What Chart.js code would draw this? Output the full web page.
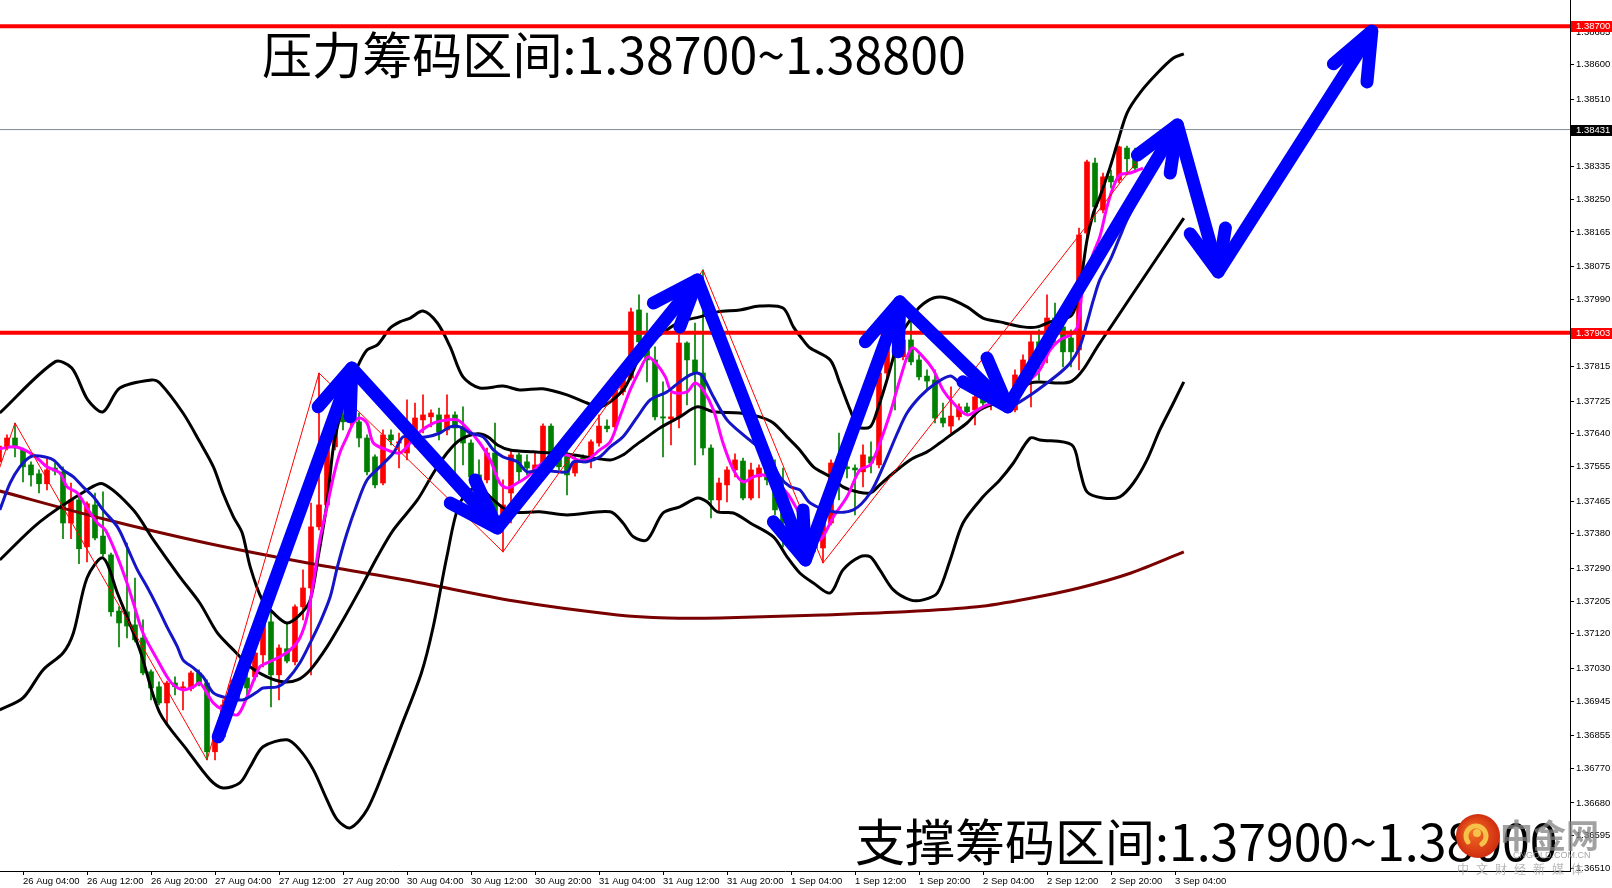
<!DOCTYPE html>
<html>
<head>
<meta charset="utf-8">
<script src="https://cdn.jsdelivr.net/npm/chart.js@4.4.1/dist/chart.umd.min.js"></script>
<style>
  html, body { margin: 0; padding: 0; background: #fff; }
  #wrap { width: 1612px; height: 888px; }
</style>
</head>
<body>
<div id="wrap"><canvas id="chart" width="1612" height="888"></canvas></div>
<script>
// H1 bars, bar 0 = 26 Aug 04:00, first visible bar is -3
const firstBar = -3;

const opens = [
  1.37567,1.37606,1.37629,1.37598,1.37559,1.37536,1.37510,1.37551,1.37541,1.37408,
  1.37468,1.37346,1.37455,1.37374,1.37325,1.37179,1.37177,1.37143,1.37109,1.37021,
  1.36982,1.36940,1.36992,1.36979,1.36977,1.37018,1.36992,1.36813,1.36852,1.36935,
  1.36987,1.37005,1.37008,1.37065,1.37151,1.37013,1.37081,1.37047,1.37190,1.37239,
  1.37398,1.37455,1.37606,1.37689,1.37671,1.37671,1.37629,1.37580,1.37512,1.37637,
  1.37616,1.37590,1.37645,1.37676,1.37684,1.37689,1.37650,1.37689,1.37658,1.37616,
  1.37533,1.37520,1.37590,1.37403,1.37486,1.37585,1.37567,1.37520,1.37554,1.37660,
  1.37580,1.37590,1.37538,1.37577,1.37572,1.37616,1.37660,1.37658,1.37749,1.37785,
  1.37962,1.37879,1.37832,1.37684,1.37679,1.37684,1.37876,1.37832,1.37798,1.37603,
  1.37468,1.37507,1.37546,1.37569,1.37473,1.37528,1.37551,1.37520,1.37442,1.37408,
  1.37351,1.37333,1.37359,1.37343,1.37408,1.37580,1.37554,1.37551,1.37541,1.37580,
  1.37559,1.37798,1.37866,1.37840,1.37884,1.37832,1.37790,1.37780,1.37681,1.37660,
  1.37684,1.37710,1.37702,1.37736,1.37720,1.37733,1.37715,1.37702,1.37793,1.37798,
  1.37879,1.37884,1.37941,1.37918,1.37889,1.37858,1.38162,1.38344,1.38222,1.38310,
  1.38300,1.38383,1.38365
];
const highs = [
  1.37616,1.37637,1.37668,1.37603,1.37567,1.37546,1.37580,1.37564,1.37554,1.37512,
  1.37476,1.37463,1.37486,1.37489,1.37330,1.37190,1.37356,1.37265,1.37156,1.37026,
  1.36995,1.36997,1.37008,1.36995,1.37023,1.37026,1.37000,1.36870,1.36948,1.37000,
  1.37013,1.37026,1.37078,1.37156,1.37177,1.37091,1.37148,1.37195,1.37286,1.37460,
  1.37798,1.37624,1.37715,1.37702,1.37697,1.37694,1.37637,1.37585,1.37650,1.37650,
  1.37642,1.37728,1.37720,1.37741,1.37702,1.37707,1.37741,1.37697,1.37710,1.37624,
  1.37572,1.37603,1.37668,1.37520,1.37598,1.37590,1.37585,1.37590,1.37666,1.37666,
  1.37590,1.37598,1.37580,1.37585,1.37624,1.37689,1.37676,1.37767,1.37801,1.37967,
  1.38001,1.37954,1.37866,1.37775,1.37759,1.37897,1.37879,1.37928,1.38066,1.37611,
  1.37525,1.37554,1.37588,1.37577,1.37564,1.37559,1.37567,1.37572,1.37551,1.37416,
  1.37364,1.37377,1.37372,1.37416,1.37572,1.37642,1.37572,1.37559,1.37611,1.37619,
  1.37819,1.37884,1.37871,1.37910,1.37936,1.37845,1.37806,1.37806,1.37720,1.37762,
  1.37718,1.37720,1.37746,1.37746,1.37741,1.37738,1.37728,1.37806,1.37845,1.37902,
  1.37910,1.38001,1.37980,1.37936,1.37910,1.38175,1.38352,1.38357,1.38318,1.38326,
  1.38388,1.38388,1.38383
];
const lows = [
  1.37551,1.37598,1.37580,1.37515,1.37504,1.37486,1.37494,1.37533,1.37367,1.37367,
  1.37302,1.37307,1.37364,1.37322,1.37166,1.37086,1.37109,1.37099,1.37013,1.36948,
  1.36935,1.36883,1.36961,1.36922,1.36971,1.36984,1.36792,1.36792,1.36844,1.36922,
  1.36948,1.36956,1.37000,1.37034,1.36930,1.36948,1.37044,1.37039,1.37156,1.37013,
  1.37390,1.37442,1.37598,1.37650,1.37655,1.37606,1.37533,1.37499,1.37507,1.37611,
  1.37551,1.37572,1.37606,1.37642,1.37658,1.37624,1.37637,1.37538,1.37559,1.37520,
  1.37507,1.37512,1.37416,1.37333,1.37408,1.37515,1.37533,1.37507,1.37546,1.37572,
  1.37546,1.37481,1.37530,1.37564,1.37551,1.37608,1.37645,1.37650,1.37741,1.37780,
  1.37858,1.37775,1.37676,1.37580,1.37611,1.37655,1.37715,1.37559,1.37585,1.37421,
  1.37437,1.37463,1.37528,1.37468,1.37468,1.37473,1.37507,1.37429,1.37346,1.37338,
  1.37312,1.37312,1.37333,1.37304,1.37403,1.37468,1.37525,1.37429,1.37502,1.37538,
  1.37551,1.37780,1.37702,1.37832,1.37819,1.37780,1.37754,1.37668,1.37658,1.37642,
  1.37676,1.37689,1.37663,1.37710,1.37702,1.37707,1.37697,1.37697,1.37780,1.37710,
  1.37780,1.37824,1.37871,1.37814,1.37814,1.37806,1.38144,1.38191,1.38214,1.38279,
  1.38292,1.38313,1.38321
];
const closes = [
  1.37608,1.37629,1.37603,1.37554,1.37533,1.37510,1.37546,1.37543,1.37408,1.37468,
  1.37341,1.37458,1.37369,1.37328,1.37177,1.37148,1.37140,1.37104,1.37018,1.36979,
  1.36940,1.36992,1.36982,1.36982,1.37018,1.36992,1.36813,1.36852,1.36935,1.36987,
  1.36974,1.36979,1.37070,1.37148,1.37013,1.37083,1.37049,1.37190,1.37239,1.37398,
  1.37455,1.37606,1.37689,1.37671,1.37681,1.37629,1.37541,1.37507,1.37637,1.37624,
  1.37619,1.37637,1.37681,1.37689,1.37694,1.37645,1.37689,1.37655,1.37616,1.37528,
  1.37520,1.37590,1.37434,1.37455,1.37585,1.37541,1.37551,1.37559,1.37660,1.37580,
  1.37554,1.37533,1.37567,1.37572,1.37619,1.37660,1.37653,1.37754,1.37785,1.37957,
  1.37879,1.37832,1.37684,1.37681,1.37684,1.37876,1.37832,1.37798,1.37603,1.37468,
  1.37512,1.37546,1.37572,1.37473,1.37546,1.37551,1.37520,1.37442,1.37408,1.37351,
  1.37333,1.37364,1.37343,1.37408,1.37564,1.37572,1.37549,1.37546,1.37585,1.37564,
  1.37798,1.37866,1.37840,1.37884,1.37827,1.37788,1.37777,1.37681,1.37668,1.37686,
  1.37710,1.37697,1.37736,1.37720,1.37733,1.37718,1.37702,1.37793,1.37832,1.37879,
  1.37845,1.37941,1.37897,1.37853,1.37853,1.38157,1.38347,1.38230,1.38308,1.38295,
  1.38386,1.38355,1.38331
];

// indicator lines, [bar, price]
const bbUpper = [[-2.9,1.37694],[4,1.37827],[6.1,1.37811],[8.1,1.37728],[10,1.37697],[12.1,1.37759],[16.1,1.37780],[17.1,1.37772],[20,1.37694],[22.1,1.37619],[23.8,1.37554],[25,1.37486],[26.3,1.37424],[27.4,1.37382],[28.4,1.37294],[29.9,1.37208],[31.3,1.37174],[33,1.37148],[34.6,1.37169],[35.9,1.37208],[36.9,1.37320],[38,1.37460],[38.8,1.37606],[39.6,1.37684],[40.5,1.37746],[41.8,1.37814],[43,1.37858],[44.3,1.37871],[45.9,1.37915],[47.1,1.37931],[48.4,1.37941],[50,1.37959],[51.8,1.37928],[53.4,1.37866],[55,1.37788],[57.1,1.37759],[60,1.37764],[62.1,1.37754],[65,1.37757],[68,1.37741],[70.5,1.37720],[72.1,1.37710],[73.4,1.37723],[75.3,1.37762],[77.8,1.37871],[79.6,1.37897],[82.1,1.37931],[84.6,1.37944],[86.8,1.37957],[89.6,1.37962],[92.1,1.37972],[95,1.37967],[96.3,1.37918],[97.5,1.37884],[98.4,1.37863],[100.9,1.37832],[102.1,1.37772],[103.4,1.37702],[104.4,1.37658],[105.9,1.37658],[106.8,1.37702],[108,1.37780],[109.6,1.37892],[110.9,1.37936],[112.1,1.37970],[113.8,1.37993],[115.5,1.37993],[118,1.37970],[120,1.37941],[122.1,1.37931],[125,1.37918],[126.8,1.37918],[128.4,1.37931],[131.1,1.37949],[132.1,1.38022],[133,1.38144],[133.8,1.38214],[134.6,1.38256],[135.9,1.38334],[136.8,1.38396],[138,1.38474],[139.6,1.38526],[141.8,1.38578],[143.8,1.38617],[145.1,1.38628]];
const bbMiddle = [[-2.9,1.37312],[2.1,1.37411],[8,1.37494],[10,1.37510],[13.8,1.37442],[16.3,1.37364],[19.6,1.37268],[22.1,1.37200],[24.3,1.37122],[26.3,1.37078],[28.4,1.37034],[30.5,1.37008],[32.5,1.36995],[34.3,1.37000],[35.9,1.37026],[38,1.37086],[40,1.37156],[42.1,1.37234],[44.3,1.37320],[46.3,1.37390],[49.3,1.37468],[51.3,1.37538],[53,1.37590],[54.6,1.37624],[56.8,1.37640],[58.1,1.37632],[59.3,1.37611],[60.9,1.37598],[63.8,1.37593],[68.8,1.37585],[73.4,1.37572],[75,1.37585],[76.3,1.37606],[77.5,1.37624],[79.6,1.37655],[82.1,1.37684],[84.3,1.37710],[86.3,1.37697],[89.6,1.37694],[92.1,1.37684],[93.8,1.37668],[95.5,1.37632],[97.1,1.37598],[98.8,1.37554],[100.9,1.37528],[102.5,1.37502],[104.3,1.37489],[105.9,1.37486],[107.1,1.37507],[108.8,1.37538],[110.9,1.37572],[113,1.37593],[114.6,1.37616],[116.3,1.37642],[118,1.37668],[119.6,1.37702],[121.8,1.37720],[123.4,1.37723],[125.9,1.37772],[131.1,1.37777],[134.6,1.37876],[138.8,1.38006],[145.1,1.38201]];
const bbLower = [[-2.9,1.36922],[0,1.36953],[2.5,1.37026],[5,1.37070],[6.3,1.37122],[8,1.37265],[10,1.37317],[11.8,1.37226],[14.6,1.37078],[17.1,1.36914],[20.5,1.36818],[23.4,1.36740],[25,1.36719],[27.1,1.36732],[28.4,1.36774],[30,1.36826],[33,1.36844],[34.6,1.36818],[36.3,1.36766],[38,1.36688],[39.3,1.36636],[40.9,1.36615],[43,1.36662],[45.5,1.36784],[47.1,1.36870],[49.8,1.37018],[51.3,1.37140],[53,1.37322],[54.6,1.37460],[56.8,1.37502],[58.8,1.37468],[60.9,1.37437],[64.6,1.37437],[68,1.37429],[73.4,1.37437],[75,1.37408],[76.3,1.37372],[78,1.37364],[80,1.37434],[82.1,1.37450],[84.3,1.37473],[85.5,1.37463],[86.8,1.37437],[88.8,1.37434],[90.9,1.37408],[93.8,1.37372],[95.5,1.37320],[97.1,1.37278],[98.8,1.37252],[100.9,1.37226],[102.5,1.37286],[104.6,1.37320],[105.9,1.37320],[107.1,1.37286],[108.8,1.37234],[110.9,1.37208],[112.5,1.37208],[114.3,1.37226],[115.9,1.37312],[117.5,1.37408],[120,1.37476],[122.1,1.37520],[123.8,1.37564],[125.9,1.37629],[127.1,1.37624],[131.1,1.37611],[132.1,1.37546],[133,1.37489],[135,1.37473],[137.1,1.37476],[138.8,1.37512],[140.5,1.37572],[142.1,1.37650],[143.8,1.37720],[145.1,1.37775]];
const maSlow = [[-2.9,1.37491],[10,1.37419],[22.9,1.37356],[35.6,1.37304],[48.5,1.37257],[61.4,1.37205],[74.3,1.37169],[80.6,1.37161],[87.1,1.37161],[99.9,1.37169],[110.3,1.37177],[119.3,1.37190],[125.6,1.37211],[132,1.37239],[138.5,1.37278],[145.1,1.37333]];
const maFast = [[-2.9,1.37601],[-1,1.37606],[1.3,1.37585],[3,1.37554],[4.6,1.37538],[5.5,1.37502],[6.8,1.37486],[8,1.37447],[9.3,1.37408],[10.3,1.37390],[11.8,1.37320],[13,1.37252],[13.8,1.37200],[15,1.37122],[16.8,1.37052],[18,1.37008],[18.8,1.36987],[20,1.36974],[21.3,1.36982],[22.1,1.36992],[23.8,1.36940],[25,1.36922],[26.8,1.36909],[28,1.36956],[29.6,1.37034],[30.5,1.37044],[32.1,1.37060],[33.4,1.37078],[34.6,1.37109],[35.5,1.37164],[36.3,1.37252],[37.1,1.37364],[38,1.37450],[38.8,1.37528],[39.6,1.37590],[40.5,1.37632],[41.3,1.37668],[42.1,1.37681],[43,1.37668],[43.8,1.37616],[45.5,1.37598],[47.1,1.37590],[48.4,1.37616],[49.6,1.37645],[51.3,1.37668],[53,1.37676],[54.3,1.37676],[55.5,1.37655],[57.1,1.37616],[58.4,1.37572],[59.6,1.37512],[60.5,1.37499],[61.8,1.37512],[63,1.37528],[64.6,1.37559],[66.3,1.37580],[68,1.37585],[69.3,1.37572],[70.5,1.37572],[72.1,1.37598],[73.4,1.37619],[74.6,1.37684],[75.9,1.37754],[77.1,1.37806],[78.1,1.37840],[79.3,1.37819],[80.3,1.37788],[81.1,1.37749],[83,1.37749],[84,1.37772],[85,1.37754],[86.3,1.37702],[87.5,1.37616],[88.8,1.37546],[90,1.37515],[91.3,1.37528],[92.5,1.37533],[93.8,1.37520],[95.5,1.37486],[96.8,1.37442],[98.1,1.37390],[99.6,1.37364],[101.3,1.37424],[103,1.37476],[104.6,1.37546],[105.9,1.37559],[107.1,1.37616],[108.4,1.37694],[109.6,1.37780],[111.1,1.37863],[112.5,1.37840],[113.8,1.37806],[115,1.37754],[116.3,1.37720],[118,1.37689],[119.3,1.37702],[120.5,1.37715],[122.1,1.37723],[123.4,1.37736],[124.6,1.37746],[125.9,1.37780],[127.1,1.37806],[128.4,1.37858],[129.6,1.37884],[130.9,1.37897],[131.8,1.37918],[132.5,1.38022],[133.8,1.38110],[134.6,1.38152],[135.5,1.38230],[136.3,1.38282],[137.1,1.38313],[138.4,1.38318],[140,1.38331]];
const maMid = [[-2.9,1.37442],[-1.6,1.37512],[-0.4,1.37554],[0.9,1.37580],[2.1,1.37582],[3.8,1.37572],[5,1.37546],[6.3,1.37528],[7.5,1.37502],[8.8,1.37476],[10,1.37442],[11.8,1.37398],[13,1.37346],[14.3,1.37286],[15.5,1.37242],[16.8,1.37190],[18,1.37138],[19.3,1.37086],[20,1.37052],[21.3,1.37031],[22.5,1.37008],[23.8,1.36966],[25.5,1.36953],[27.5,1.36948],[29.3,1.36969],[30,1.36979],[31.8,1.36982],[33,1.37000],[34.6,1.37044],[35.9,1.37096],[37.1,1.37148],[38.4,1.37216],[39.3,1.37294],[40.5,1.37382],[41.8,1.37460],[43,1.37520],[44.6,1.37554],[46.3,1.37590],[47.5,1.37632],[48.8,1.37629],[50.5,1.37632],[52.1,1.37642],[53.4,1.37658],[54.6,1.37658],[55.9,1.37642],[57.5,1.37632],[58.8,1.37598],[60,1.37580],[61.8,1.37567],[63,1.37541],[64.6,1.37546],[68,1.37541],[68.8,1.37567],[70.5,1.37567],[72.1,1.37580],[73.4,1.37606],[75,1.37632],[76.8,1.37684],[78.4,1.37728],[80.5,1.37749],[82.1,1.37775],[83.4,1.37793],[84.3,1.37798],[85,1.37788],[86.3,1.37736],[88,1.37676],[89.6,1.37645],[91.3,1.37616],[93,1.37590],[94.6,1.37528],[95.9,1.37502],[97.1,1.37494],[98.4,1.37460],[101.3,1.37437],[103.8,1.37442],[105.9,1.37486],[107.5,1.37554],[109.3,1.37642],[110.5,1.37694],[112.1,1.37736],[113.8,1.37767],[115.9,1.37790],[117.1,1.37772],[118.8,1.37746],[120.5,1.37728],[122.1,1.37720],[123.4,1.37710],[124.6,1.37723],[126.3,1.37746],[128,1.37772],[129.6,1.37798],[130.9,1.37824],[132.1,1.37866],[133,1.37928],[133.8,1.37988],[134.6,1.38040],[135.9,1.38092],[137.1,1.38152],[138,1.38196],[139.3,1.38248],[140,1.38274]];
const zigzag = [[-3.2,1.37535],[-1,1.37668],[23,1.36792],[37,1.37798],[60,1.37333],[85,1.38066],[100,1.37304],[142.5,1.38435]];

// hand drawn arrows: path through the tips, then a head per tip
const arrowPath = [[24.4,1.36852],[41.1,1.37811],[59.3,1.37395],[84.3,1.38040],[97.8,1.37312],[109.6,1.37983],[123.1,1.37710],[144.3,1.38443],[149.4,1.38061],[168.6,1.38687]];
const arrowHeads = [
  [[36.9,1.37710],[41.1,1.37811],[40.9,1.37684]],
  [[56.5,1.37520],[59.3,1.37395],[53.4,1.37460]],
  [[78.8,1.37980],[84.3,1.38040],[82.1,1.37918]],
  [[93.8,1.37411],[97.8,1.37312],[97.5,1.37442]],
  [[105.3,1.37879],[109.6,1.37983],[109.4,1.37853]],
  [[120.5,1.37837],[123.1,1.37710],[117.5,1.37775]],
  [[139.3,1.38365],[144.3,1.38443],[143.4,1.38318]],
  [[145.9,1.38160],[149.4,1.38061],[150.3,1.38175]],
  [[163.8,1.38602],[168.6,1.38687],[168,1.38555]]
];

const resistance = 1.38700;
const support = 1.37903;
const lastPrice = 1.38431;

const tickHours = [0,8,16,24,32,40,48,56,64,72,80,88,96,104,112,120,128,136,144];
const timeLabels = ['26 Aug 04:00','26 Aug 12:00','26 Aug 20:00','27 Aug 04:00','27 Aug 12:00','27 Aug 20:00',
  '30 Aug 04:00','30 Aug 12:00','30 Aug 20:00','31 Aug 04:00','31 Aug 12:00','31 Aug 20:00',
  '1 Sep 04:00','1 Sep 12:00','1 Sep 20:00','2 Sep 04:00','2 Sep 12:00','2 Sep 20:00','3 Sep 04:00'];
const priceTicks = [1.38685,1.38600,1.38510,1.38335,1.38250,1.38165,1.38075,1.37990,1.37815,1.37725,1.37640,
  1.37555,1.37465,1.37380,1.37290,1.37205,1.37120,1.37030,1.36945,1.36855,1.36770,1.36680,1.36595,1.36510];

const topCaption = '压力筹码区间:1.38700~1.38800';
const bottomCaption = '支撑筹码区间:1.37900~1.38000';

const UP = '#ff0000', DOWN = '#008000';
const candleColors = closes.map((c, k) => c > opens[k] ? UP : DOWN);
const wickData = lows.map((l, k) => ({ x: firstBar + k, y: [l, highs[k]] }));
const bodyData = opens.map((o, k) => ({ x: firstBar + k, y: [o, closes[k]] }));

function pts(pairs) { return pairs.map(p => ({ x: p[0], y: p[1] })); }
function lineSet(pairs, color, width, order, extra) {
  return Object.assign({
    type: 'line', data: pts(pairs), borderColor: color, borderWidth: width,
    pointRadius: 0, fill: false, tension: 0.3, order: order
  }, extra || {});
}
function level(v, color, width) {
  return lineSet([[-5, v], [200, v]], color, width, 3, { tension: 0 });
}

const arrowStyle = { tension: 0, borderCapStyle: 'round', borderJoinStyle: 'round' };
const datasets = [
  { type: 'bar', data: wickData, backgroundColor: candleColors, barThickness: 1, grouped: false, order: 10 },
  { type: 'bar', data: bodyData, backgroundColor: candleColors, barThickness: 5, grouped: false, minBarLength: 1, order: 9 },
  lineSet(maSlow, '#7a0000', 3, 6),
  lineSet(bbUpper, '#000000', 3, 5),
  lineSet(bbMiddle, '#000000', 3, 5),
  lineSet(bbLower, '#000000', 3, 5),
  lineSet(maMid, '#1414c8', 3, 4),
  lineSet(maFast, '#ff00ff', 3, 4),
  lineSet(zigzag, '#ff0000', 1, 3, { tension: 0 }),
  level(resistance, '#ff0000', 4),
  level(support, '#ff0000', 4),
  level(lastPrice, '#7f8c99', 1),
  lineSet(arrowPath, '#0000ff', 13, 0, arrowStyle)
].concat(arrowHeads.map(h => lineSet(h, '#0000ff', 13, 0, arrowStyle)));

const levelTags = [
  { value: resistance, bg: '#ff0000' },
  { value: support, bg: '#ff0000' },
  { value: lastPrice, bg: '#000000' }
];

function drawCaption(ctx, text, left, baseline, width) {
  ctx.font = '50px "Noto Sans CJK SC"';
  const size = 50 * width / ctx.measureText(text).width;
  ctx.font = size.toFixed(1) + 'px "Noto Sans CJK SC"';
  ctx.fillStyle = '#000';
  ctx.textAlign = 'left';
  ctx.textBaseline = 'alphabetic';
  ctx.fillText(text, left, baseline);
}

function drawLogo(ctx, cx, cy) {
  const g = ctx.createRadialGradient(cx - 6, cy - 6, 3, cx, cy, 22);
  g.addColorStop(0, '#f26a22');
  g.addColorStop(1, '#cf2d10');
  ctx.fillStyle = g;
  ctx.beginPath(); ctx.arc(cx, cy, 22, 0, Math.PI * 2); ctx.fill();
  ctx.strokeStyle = '#f6c24a'; ctx.lineWidth = 5; ctx.lineCap = 'round';
  ctx.beginPath(); ctx.arc(cx - 2, cy, 10, Math.PI * 0.8, Math.PI * 2.3); ctx.stroke();
  ctx.fillStyle = '#f6c24a';
  ctx.beginPath(); ctx.arc(cx - 1, cy - 3, 4, 0, Math.PI * 2); ctx.fill();

  ctx.textAlign = 'left'; ctx.textBaseline = 'alphabetic';
  ctx.fillStyle = 'rgba(130,130,130,0.75)';
  ctx.font = 'bold 33px "Noto Sans CJK SC"';
  ctx.fillText('中金网', 1500, 848);
  ctx.fillStyle = 'rgba(150,150,150,0.85)';
  ctx.font = '9px "Liberation Sans"';
  ctx.fillText('CNGOLD.COM.CN', 1513, 858);
  ctx.fillStyle = 'rgba(170,170,170,0.85)';
  ctx.font = '12px "Noto Sans CJK SC"';
  '中文财经新媒体'.split('').forEach((ch, k) => ctx.fillText(ch, 1457 + k * 19, 874));
}

const overlay = {
  id: 'overlay',
  afterDraw(chart) {
    const ctx = chart.ctx, ys = chart.scales.y, area = chart.chartArea;
    ctx.save();
    levelTags.forEach(t => {
      const py = Math.round(ys.getPixelForValue(t.value));
      ctx.fillStyle = t.bg;
      ctx.fillRect(area.right + 1, py - 5, 42, 11);
      ctx.fillStyle = '#fff';
      ctx.font = '9.5px "Liberation Sans"';
      ctx.textAlign = 'left';
      ctx.textBaseline = 'middle';
      ctx.fillText(t.value.toFixed(5), area.right + 6, py + 0.5);
    });
    drawCaption(ctx, topCaption, 262, 74, 704);
    drawCaption(ctx, bottomCaption, 855, 861, 702);
    drawLogo(ctx, 1478, 836);
    ctx.restore();
  }
};

const axisFont = { family: 'Liberation Sans', size: 9.5 };

new Chart(document.getElementById('chart'), {
  type: 'bar',
  data: { datasets: datasets },
  options: {
    responsive: false,
    animation: false,
    devicePixelRatio: 1,
    events: [],
    layout: { padding: 0 },
    plugins: { legend: { display: false }, tooltip: { enabled: false } },
    scales: {
      x: {
        type: 'linear', position: 'bottom', min: -2.875, max: 193.375, offset: false,
        grid: { drawOnChartArea: false, drawTicks: true, tickLength: 4, color: '#000', offset: false },
        border: { display: true, color: '#000', width: 1 },
        ticks: {
          align: 'start', autoSkip: false, maxRotation: 0, minRotation: 0, padding: 1,
          color: '#000', font: axisFont,
          callback: (v, i) => timeLabels[i]
        },
        afterBuildTicks: s => { s.ticks = tickHours.map(v => ({ value: v })); },
        afterFit: s => { s.height = 17; s.paddingLeft = 0; s.paddingRight = 0; }
      },
      y: {
        type: 'linear', position: 'right', min: 1.36503, max: 1.38768,
        grid: { drawOnChartArea: false, drawTicks: true, tickLength: 4, color: '#000' },
        border: { display: true, color: '#000', width: 1 },
        ticks: { padding: 2, color: '#000', font: axisFont, callback: v => v.toFixed(5) },
        afterBuildTicks: s => { s.ticks = priceTicks.map(v => ({ value: v })); },
        afterFit: s => { s.width = 42; s.paddingTop = 0; s.paddingBottom = 0; }
      }
    }
  },
  plugins: [overlay]
});
</script>
</body>
</html>
